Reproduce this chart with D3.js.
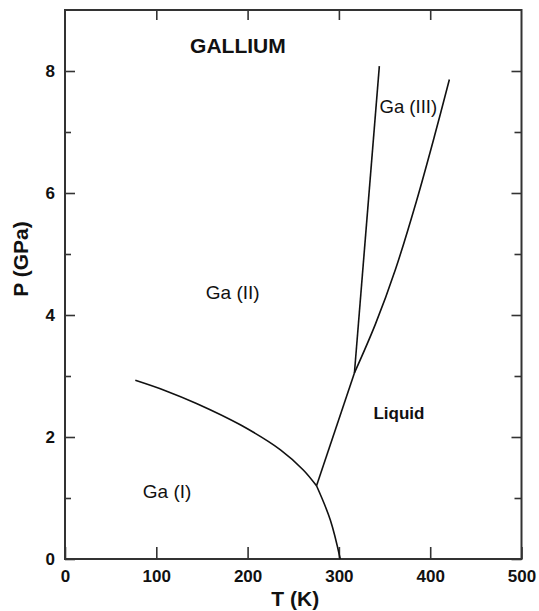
<!DOCTYPE html>
<html>
<head>
<meta charset="utf-8">
<script src="https://cdn.jsdelivr.net/npm/d3@7"></script>
<style>
  body { margin: 0; background: #fff; }
  svg text { font-family: "Liberation Sans", Arial, Helvetica, sans-serif; fill: #111; }
</style>
</head>
<body>
<div id="chart"></div>
<script>

// phase boundaries of gallium, [T (K), P (GPa)]
var gaI_II   = [[77, 2.93], [110, 2.76], [144, 2.55], [192, 2.20], [236, 1.79], [261, 1.46], [275.5, 1.2]];
var gaI_liq  = [[275.5, 1.2], [290.6, 0.64], [301.5, 0]];
var gaII_liq = [[275.5, 1.2], [317, 3.05]];
var gaIII_liq = [[317, 3.05], [340, 3.85], [362, 4.75], [385, 5.87], [405, 6.95], [421, 7.86]];
var gaII_III = [[317, 3.05], [344.3, 8.08]];

var xTicks = [0, 100, 200, 300, 400, 500];
var yTicks = [0, 2, 4, 6, 8];
var yMinor = [1, 3, 5, 7];

var width = 539, height = 611;

var svg = d3.select('#chart').append('svg')
    .attr('width', width)
    .attr('height', height);

var x = d3.scaleLinear().domain([0, 500]).range([65, 521.5]);
var y = d3.scaleLinear().domain([0, 9]).range([559, 10]);

var frameColor = '#333';

// axes, ticks pointing inward
svg.append('g')
    .attr('transform', 'translate(0,' + y(0) + ')')
    .call(d3.axisBottom(x).tickValues(xTicks).tickSizeInner(-12).tickSizeOuter(0).tickPadding(11));

svg.append('g')
    .attr('transform', 'translate(' + x(0) + ',0)')
    .call(d3.axisLeft(y).tickValues(yTicks).tickSizeInner(-10).tickSizeOuter(0).tickPadding(10));

svg.append('g')
    .attr('transform', 'translate(' + x(0) + ',0)')
    .call(d3.axisLeft(y).tickValues(yMinor).tickSizeInner(-6).tickSizeOuter(0).tickFormat(''));

svg.append('g')
    .attr('transform', 'translate(0,' + y(9) + ')')
    .call(d3.axisTop(x).tickValues(xTicks.slice(1, 5)).tickSizeInner(-10).tickSizeOuter(0).tickFormat(''));

svg.append('g')
    .attr('transform', 'translate(' + x(500) + ',0)')
    .call(d3.axisRight(y).tickValues(yTicks).tickSizeInner(-10).tickSizeOuter(0).tickFormat(''));

svg.append('g')
    .attr('transform', 'translate(' + x(500) + ',0)')
    .call(d3.axisRight(y).tickValues(yMinor).tickSizeInner(-7).tickSizeOuter(0).tickFormat(''));

svg.selectAll('.domain').remove();
svg.selectAll('.tick line').attr('stroke', frameColor).attr('stroke-width', 1.6);
svg.selectAll('.tick text')
    .style('font-size', '17px')
    .style('font-weight', 'bold')
    .attr('fill', '#111');

svg.append('rect')
    .attr('x', x(0))
    .attr('y', y(9))
    .attr('width', x(500) - x(0))
    .attr('height', y(0) - y(9))
    .attr('fill', 'none')
    .attr('stroke', frameColor)
    .attr('stroke-width', 2);

// boundaries
var line = d3.line()
    .x(function(d) { return x(d[0]); })
    .y(function(d) { return y(d[1]); })
    .curve(d3.curveCatmullRom);

[gaI_II, gaI_liq, gaII_liq, gaIII_liq, gaII_III].forEach(function(pts) {
    svg.append('path')
        .attr('d', line(pts))
        .attr('fill', 'none')
        .attr('stroke', '#111')
        .attr('stroke-width', 1.6);
});

// labels
function label(txt, t, p, size, bold) {
    svg.append('text')
        .attr('x', x(t))
        .attr('y', y(p))
        .style('font-size', size + 'px')
        .style('font-weight', bold ? 'bold' : 'normal')
        .text(txt);
}
label('GALLIUM', 137, 8.30, 21, true);
label('Ga (I)', 85.2, 1.0, 19, false);
label('Ga (II)', 154.2, 4.26, 19, false);
label('Ga (III)', 344.5, 7.31, 18.5, false);
label('Liquid', 337.8, 2.29, 17, true);

svg.append('text')
    .attr('x', (x(0) + x(500)) / 2 + 2)
    .attr('y', 606)
    .attr('text-anchor', 'middle')
    .style('font-size', '21px')
    .style('font-weight', 'bold')
    .text('T (K)');

svg.append('text')
    .attr('transform', 'translate(28,259) rotate(-90)')
    .attr('text-anchor', 'middle')
    .style('font-size', '21px')
    .style('font-weight', 'bold')
    .text('P (GPa)');

</script>
</body>
</html>
